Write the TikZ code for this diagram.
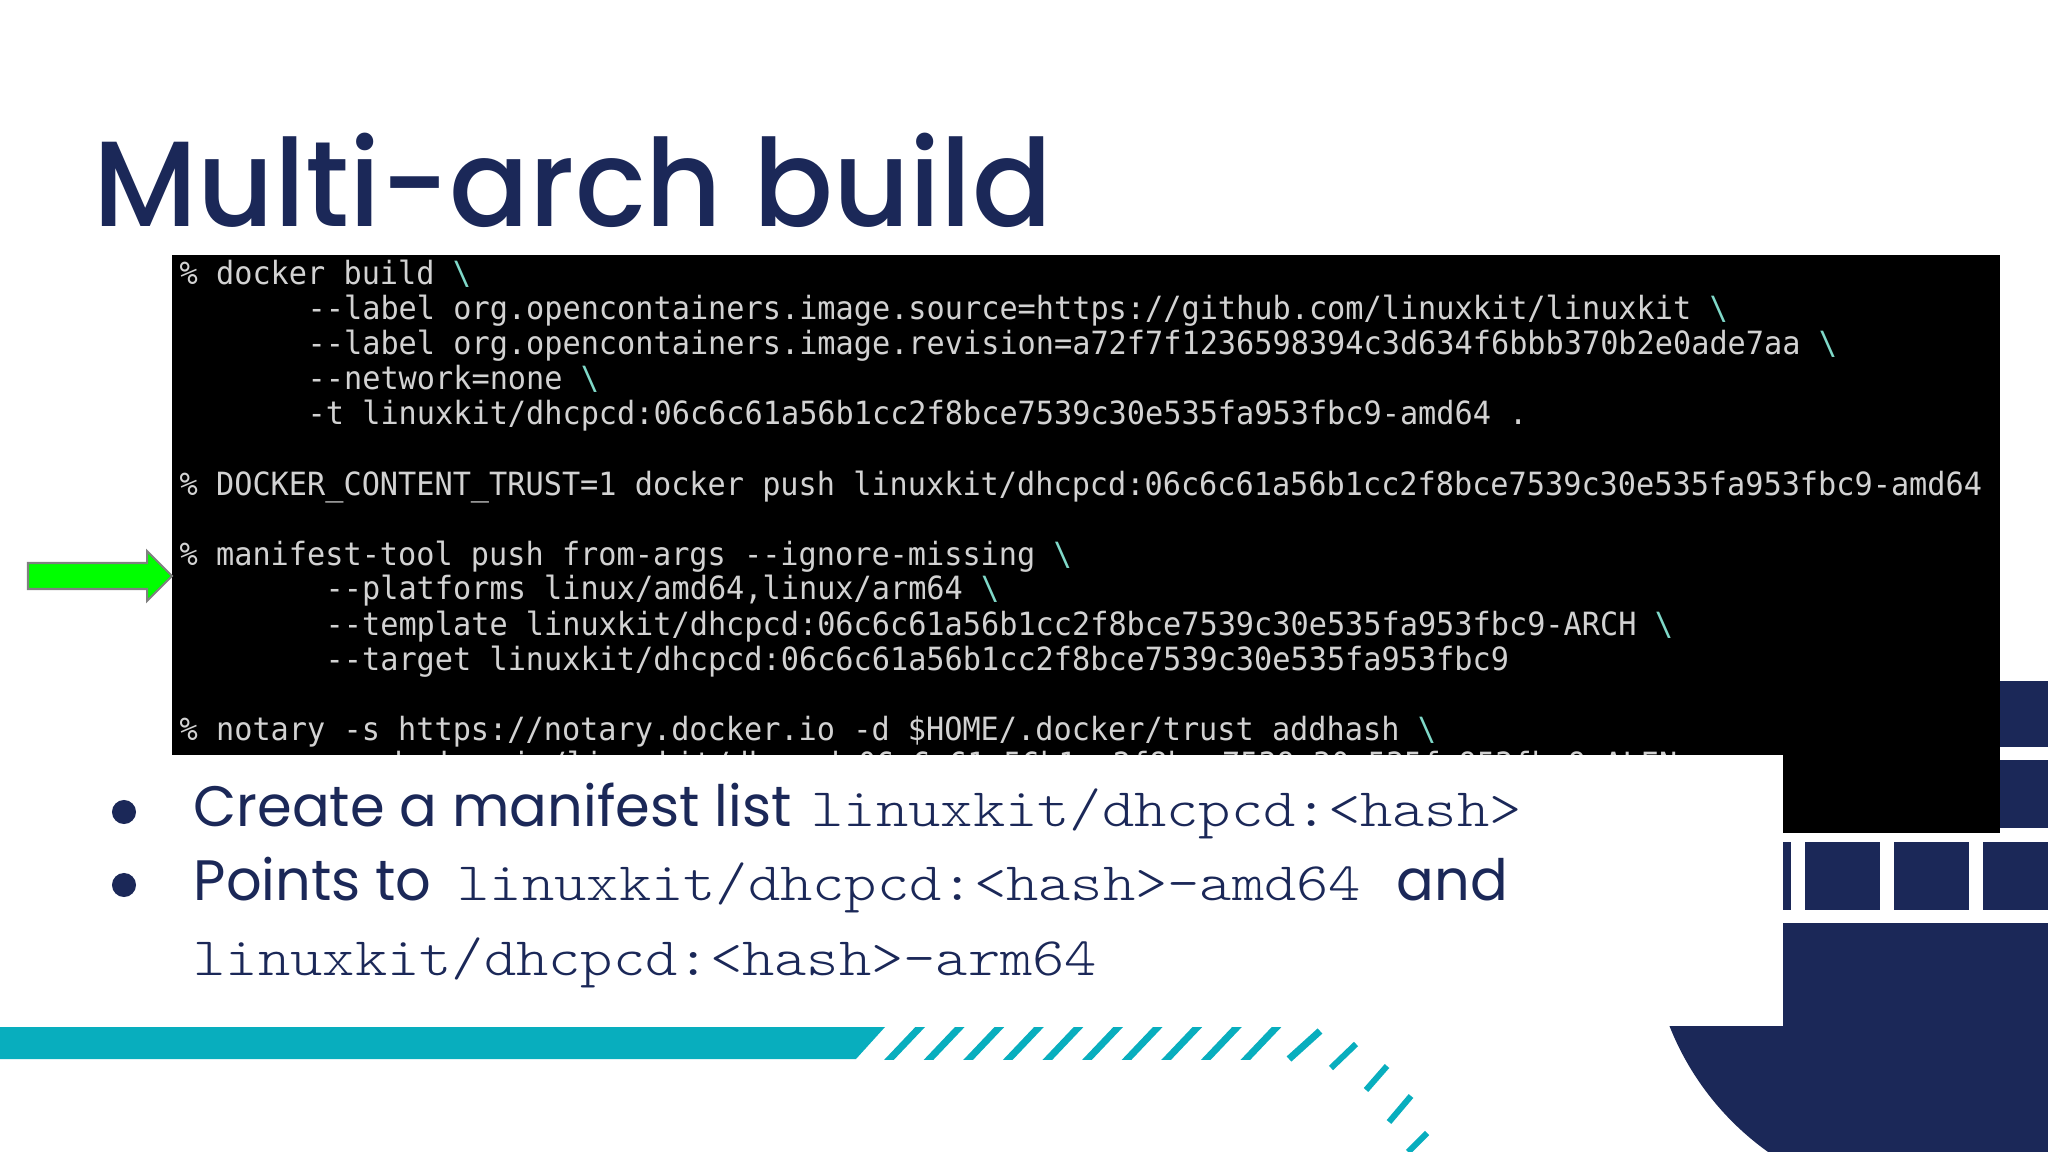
\documentclass[tikz,border=0pt]{standalone}
\usepackage{fontspec}
\usepackage{tikz}
\usetikzlibrary{positioning}
\newfontfamily\titlefont[FakeStretch=0.973]{Poppins Medium}
\newfontfamily\bodyfont[FakeStretch=0.98]{Poppins}
\newfontfamily\termfont[FakeStretch=0.945]{DejaVu Sans Mono}
\newfontfamily\hashfont[FakeStretch=1.135]{Latin Modern Mono Light}
\definecolor{navy}{HTML}{1B2858}
\definecolor{stripe}{HTML}{08AEBE}
\definecolor{termgray}{HTML}{D2D2D2}
\definecolor{termteal}{HTML}{7FD8C8}
\newcommand{\bslash}{{\color{termteal}\textbackslash}}
\tikzset{
  termline/.style={anchor=base west,inner sep=0pt,text=termgray,font=\termfont\fontsize{9.1}{9.1}\selectfont},
  bullet/.style={anchor=base west,inner sep=0pt,text=navy,font=\bodyfont\fontsize{16.2}{16.2}\selectfont},
  hash/.style={anchor=base west,inner sep=0pt,text=navy,font=\hashfont\fontsize{15.4}{15.4}\selectfont},
  dot/.style={circle,fill=navy,inner sep=0pt,minimum size=0.24cm},
  box/.style={fill=navy},
}
\begin{document}
\begin{tikzpicture}[x=0.01cm,y=-0.01cm]
\useasboundingbox (0,0) rectangle (2048,1152);
\fill[white] (0,0) rectangle (2048,1152);

% Whale hull and containers
\fill[navy] (1931,923) rectangle (2048,1152);
\begin{scope}
\clip (1600,923) rectangle (1931,1152);
\fill[navy] (1931,923) circle (281);
\end{scope}
\foreach \i in {0,1,2,3} {
  \fill[box] ({1716+89*\i},842) rectangle ({1791+89*\i},910);
}
\fill[box] (1990,681) rectangle (2048,747);
\fill[box] (1990,760) rectangle (2048,828);

% Teal bar and stripes
\fill[stripe] (0,1027) -- (885,1027) -- (856,1059) -- (0,1059) -- cycle;
\begin{scope}
\clip (880,1027) rectangle (1300,1059);
\foreach \i in {0,...,9} {
  \draw[stripe,line width=0.07cm] ({886+39.6*\i},1063) -- ({924+39.6*\i},1023);
}
\end{scope}
\draw[stripe,line width=0.07cm] (1289,1059) -- (1320,1031);
\draw[stripe,line width=0.06cm] (1331,1068) -- (1356,1044);
\draw[stripe,line width=0.06cm] (1366,1090) -- (1387,1066);
\draw[stripe,line width=0.06cm] (1389,1122) -- (1411,1096);
\draw[stripe,line width=0.06cm] (1408,1152) -- (1427,1133);

% Terminal
\fill[black] (172,255) rectangle (2000,833);
\node[termline] (build) at (179,285) {\% docker build \bslash};
\node[termline] (source) at (307,320) {-{}-label org.opencontainers.image.source=https://github.com/linuxkit/linuxkit \bslash};
\node[termline] (revision) at (307,355) {-{}-label org.opencontainers.image.revision=a72f7f1236598394c3d634f6bbb370b2e0ade7aa \bslash};
\node[termline] (network) at (307,390) {-{}-network=none \bslash};
\node[termline] (tag) at (307,425) {-t linuxkit/dhcpcd:06c6c61a56b1cc2f8bce7539c30e535fa953fbc9-amd64 .};
\node[termline] (push) at (179,495) {\% DOCKER\_CONTENT\_TRUST=1 docker push linuxkit/dhcpcd:06c6c61a56b1cc2f8bce7539c30e535fa953fbc9-amd64};
\node[termline] (manifest) at (179,565) {\% manifest-tool push from-args -{}-ignore-missing \bslash};
\node[termline] (platforms) at (325,600) {-{}-platforms linux/amd64,linux/arm64 \bslash};
\node[termline] (template) at (325,635) {-{}-template linuxkit/dhcpcd:06c6c61a56b1cc2f8bce7539c30e535fa953fbc9-ARCH \bslash};
\node[termline] (target) at (325,670) {-{}-target linuxkit/dhcpcd:06c6c61a56b1cc2f8bce7539c30e535fa953fbc9};
\node[termline] (notary) at (179,740) {\% notary -s https://notary.docker.io -d \$HOME/.docker/trust addhash \bslash};
\node[termline] (hidden) at (384,775) {docker.io/linuxkit/dhcpcd:06c6c61a56b1cc2f8bce7539c30e535fa953fbc9-ALEN};

% Panel over the terminal
\fill[white] (0,755) rectangle (1783,1026);

% Green arrow
\draw[gray,fill=green,line width=0.02cm] (28,563) -- (147,563) -- (147,551) -- (172,576) -- (147,601) -- (147,589) -- (28,589) -- cycle;

% Title
\node[anchor=base west,inner sep=0pt,text=navy,font=\titlefont\fontsize{34.5}{34.5}\selectfont] (title) at (93,227) {Multi-arch build};

% Bullets
\node[dot] (dot1) at (124,812) {};
\node[dot] (dot2) at (124,885) {};
\node[bullet] (create) at (193,826) {Create a manifest list};
\node[hash] (list) at (811,826) {linuxkit/dhcpcd:<hash>};
\node[bullet] (points) at (193,900) {Points to};
\node[hash] (amd) at (457,900) {linuxkit/dhcpcd:<hash>-amd64};
\node[bullet] (and) at (1396,900) {and};
\node[hash] (arm) at (193,975) {linuxkit/dhcpcd:<hash>-arm64};
\end{tikzpicture}
\end{document}
